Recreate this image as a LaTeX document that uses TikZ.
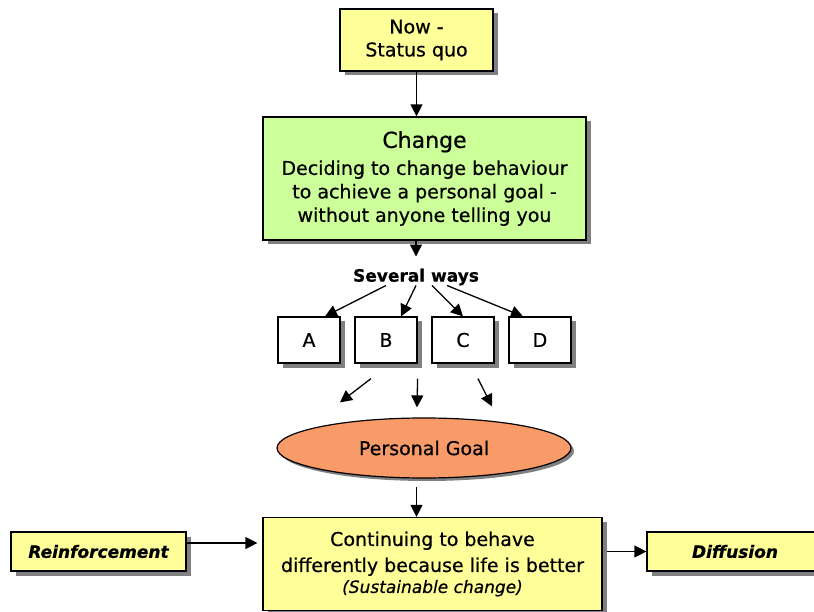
\documentclass[tikz,border=0pt]{standalone}
\usepackage{fontspec}
\setmainfont{DejaVu Sans}[FakeBold=0.6]
\usetikzlibrary{shapes,arrows.meta,calc,shadows}
\definecolor{nowyellow}{HTML}{FFFF99}
\definecolor{changegreen}{HTML}{CCFF99}
\definecolor{goalorange}{HTML}{F99A69}

\begin{document}
\begin{tikzpicture}[
    x=1pt, y=-1pt,
    node distance=77pt,
    block/.style={
      rectangle,
      draw,
      line width=1.2pt,
      fill=nowyellow,
      align=center,
      inner sep=0pt,
      font=\fontsize{19}{23}\selectfont,
      drop shadow={shadow xshift=4.5pt, shadow yshift=-4.5pt, fill=black!50, opacity=1}
    },
    way/.style={block, fill=white, minimum width=62pt, minimum height=46pt, font=\fontsize{19}{23}\selectfont},
    side/.style={block, minimum height=39pt, font=\fontsize{17}{20}\selectfont\bfseries\itshape},
    oval/.style={
      ellipse,
      draw,
      line width=1.2pt,
      fill=goalorange,
      inner sep=0pt,
      font=\fontsize{19}{23}\selectfont,
      drop shadow={shadow xshift=3pt, shadow yshift=-3pt, fill=black!50, opacity=1}
    },
    line/.style={draw, line width=1.3pt, -{Triangle[length=12pt,width=12pt]}},
]
    \clip (0,0) rectangle (814,612);

    \node [block, minimum width=153pt, minimum height=62pt] (now) at (416.5,40) {Now -\\Status quo};
    \node [block, below of=now, node distance=138.5pt, xshift=8pt, fill=changegreen, minimum width=323pt, minimum height=123pt, font=\fontsize{19}{23.5}\selectfont] (change) {{\fontsize{22}{26}\selectfont Change}\\[3.5pt] Deciding to change behaviour\\to achieve a personal goal -\\without anyone telling you};
    \node [below of=change, node distance=98.5pt, xshift=-8.5pt, inner sep=0pt, font=\fontsize{17}{20}\selectfont\bfseries] (ways) {Several ways};

    \node [way] (wayA) at (309,340) {A};
    \node [way, right of=wayA] (wayB) {B};
    \node [way, right of=wayB] (wayC) {C};
    \node [way, right of=wayC] (wayD) {D};

    \node [oval, minimum width=294pt, minimum height=60pt] (goal) at (424,448) {Personal Goal};

    \node [block, minimum width=339pt, minimum height=93pt] (cont) at (432.5,564) {Continuing to behave\\[3pt]differently because life is better\\[-2pt]{\itshape\fontsize{17}{20}\selectfont (Sustainable change)}};
    \node [side, minimum width=175pt] (reinf) at (98.5,551.5) {Reinforcement};
    \node [side, minimum width=176pt] (diff) at (735,551.5) {Diffusion};

    \path [line] (now) -- (now |- change.north);
    \path [line] (change.south -| ways) -- ([yshift=12pt]ways.north);

    \path [line] ([xshift=-30pt]ways.south) -- ([xshift=16pt]wayA.north);
    \path [line] (ways.south) -- ([xshift=15pt]wayB.north);
    \path [line] ([xshift=16pt]ways.south) -- (wayC.north);
    \path [line] ([xshift=31pt]ways.south) -- ([xshift=-17pt]wayD.north);

    \path [line] ([xshift=-15pt,yshift=-15pt]wayB.south) -- ([xshift=-84pt,yshift=15pt]goal.north);
    \path [line] ([yshift=-15pt]wayB.south east) -- ([xshift=-7pt,yshift=10pt]goal.north);
    \path [line] ([xshift=15pt,yshift=-15pt]wayC.south) -- ([xshift=68pt,yshift=11pt]goal.north);

    \path [line] ($(goal.south -| now)+(0,8)$) -- (cont.north -| now);
    \path [line, shorten >=5pt] ($(reinf.east)+(0,-8.5)$) -- ($(reinf.east -| cont.west)+(0,-8.5)$);
    \path [line, shorten <=4pt] (diff.west -| cont.east) -- (diff.west);

\end{tikzpicture}
\end{document}
